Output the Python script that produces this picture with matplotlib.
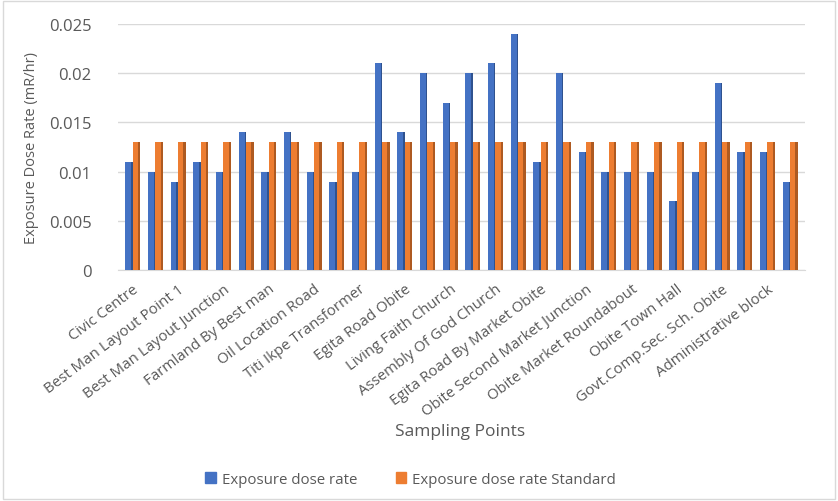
import matplotlib
matplotlib.use("Agg")
import matplotlib.pyplot as plt
import numpy as np
from matplotlib.patches import Patch

# Sampling locations (labels shown on every other category)
shown_labels = [
    "Civic Centre", "Best Man Layout Point 1", "Best Man Layout Junction",
    "Farmland By Best man", "Oil Location Road", "Titi Ikpe Transformer",
    "Egita Road Obite", "Living Faith Church", "Assembly Of God Church",
    "Egita Road By Market Obite", "Obite Second Market Junction",
    "Obite Market Roundabout", "Obite Town Hall", "Govt.Comp.Sec. Sch. Obite",
    "Administrative block",
]

# Measured exposure dose rate (mR/hr) at each of the 30 points
dose_rate = [
    0.011, 0.010, 0.009, 0.011, 0.010, 0.014, 0.010, 0.014, 0.010, 0.009,
    0.010, 0.021, 0.014, 0.020, 0.017, 0.020, 0.021, 0.024, 0.011, 0.020,
    0.012, 0.010, 0.010, 0.010, 0.007, 0.010, 0.019, 0.012, 0.012, 0.009,
]
# Recommended standard (mR/hr)
dose_standard = [0.013] * len(dose_rate)

blue, blue_side = "#4472C4", "#2F528F"
orange, orange_side = "#ED7D31", "#AE5A21"
text_grey = "#595959"

plt.rcParams["font.family"] = ["Open Sans", "DejaVu Sans"]

fig = plt.figure(figsize=(8.38, 5.02), dpi=100)
ax = fig.add_axes([118 / 838, 0.46, 687 / 838, 0.49])

x = np.arange(len(dose_rate))


def prism(xpos, values, left, front_w, side_w, face, side):
    """Column with a front face and a darker right-hand depth face."""
    ax.bar(xpos + left, values, width=front_w, align="edge", color=face,
           linewidth=0, zorder=3)
    ax.bar(xpos + left + front_w, values, width=side_w, align="edge",
           color=side, linewidth=0, zorder=3)


prism(x, dose_rate, -0.32, 0.26, 0.06, blue, blue_side)
prism(x, dose_standard, -0.00, 0.24, 0.10, orange, orange_side)

ax.set_xlim(-0.64, len(dose_rate) - 1 + 0.66)
ax.set_ylim(0, 0.025)
ax.set_yticks([0, 0.005, 0.01, 0.015, 0.02, 0.025])
ax.set_yticklabels(["0", "0.005", "0.01", "0.015", "0.02", "0.025"])
ax.grid(axis="y", color="#d9d9d9", linewidth=1, zorder=0)
for s in ["top", "right", "left"]:
    ax.spines[s].set_visible(False)
ax.spines["bottom"].set_color("#d9d9d9")
ax.tick_params(axis="both", length=0, colors=text_grey)
ax.tick_params(axis="y", pad=19, labelsize=12)

tick_pos = x[::2]
ax.set_xticks(tick_pos)
ax.set_xticklabels(shown_labels, rotation=37, ha="right", rotation_mode="anchor",
                   color=text_grey, fontsize=10.8)
ax.tick_params(axis="x", pad=8)

ax.set_ylabel("Exposure Dose Rate (mR/hr)", color=text_grey, fontsize=10.5)
ax.yaxis.set_label_coords(-0.115, 0.5)
fig.text(0.549, 0.139, "Sampling Points", ha="center", va="center",
         color=text_grey, fontsize=12.5)

handles = [Patch(color=blue), Patch(color=orange)]
fig.legend(handles, ["Exposure dose rate", "Exposure dose rate Standard"],
           loc="center", bbox_to_anchor=(0.49, 0.043), ncol=2, frameon=False,
           handlelength=0.7, handleheight=0.7, columnspacing=2.6,
           handletextpad=0.4, fontsize=10.8, labelcolor=text_grey)

# thin frame around the whole chart
fig.patches.append(plt.Rectangle((0.003, 0.004), 0.994, 0.992, transform=fig.transFigure,
                                 fill=False, edgecolor="#d9d9d9", linewidth=1))

fig.savefig("out.png", dpi=100)
